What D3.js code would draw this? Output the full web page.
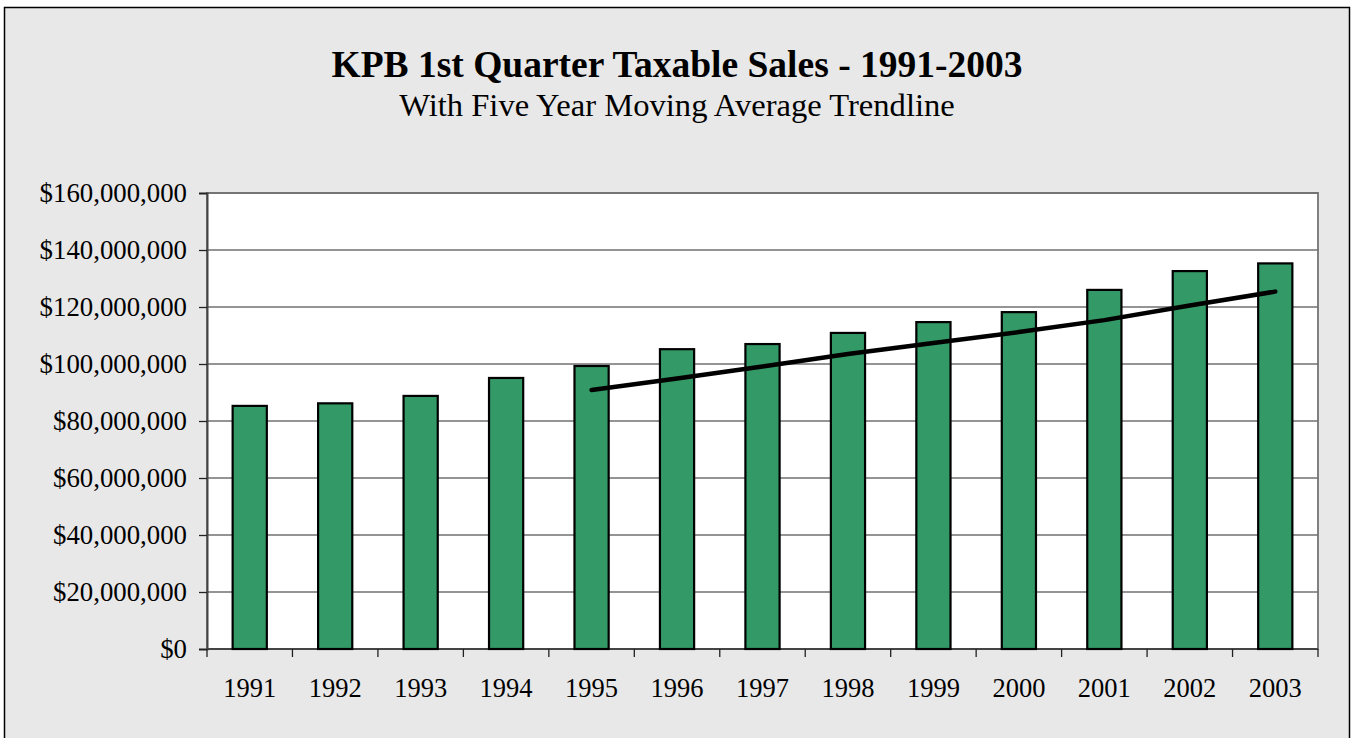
<!DOCTYPE html>
<html>
<head>
<meta charset="utf-8">
<script src="https://cdn.jsdelivr.net/npm/d3@7"></script>
<style>
  body { margin: 0; background: #fff; }
  svg { display: block; font-family: "Liberation Serif", "Times New Roman", serif; }
</style>
</head>
<body>
<div id="chart"></div>
<script>
// data
var years = ["1991", "1992", "1993", "1994", "1995", "1996", "1997", "1998", "1999", "2000", "2001", "2002", "2003"];
var sales = [85.3, 86.2, 88.8, 95.1, 99.3, 105.2, 107.0, 110.9, 114.7, 118.2, 126.0, 132.6, 135.3]; // millions
var trendYears = ["1995", "1996", "1997", "1998", "1999", "2000", "2001", "2002", "2003"];
var trendValues = [90.9, 94.9, 99.1, 103.5, 107.4, 111.2, 115.4, 120.5, 125.4]; // five year moving avg, millions
var yTicks = [0, 20, 40, 60, 80, 100, 120, 140, 160];

var width = 1352, height = 738;
var plot = { left: 207, top: 193, right: 1318, bottom: 649 };

var svg = d3.select("#chart").append("svg")
    .attr("width", width).attr("height", height);

// outer chart area
svg.append("rect")
    .attr("x", 4.5).attr("y", 7.5)
    .attr("width", width - 7).attr("height", height)
    .attr("fill", "#e8e8e8")
    .attr("stroke", "#000").attr("stroke-width", 1.5);

// titles
svg.append("text")
    .attr("x", 677).attr("y", 77)
    .attr("text-anchor", "middle")
    .attr("font-size", 37.5).attr("font-weight", "bold")
    .text("KPB 1st Quarter Taxable Sales - 1991-2003");
svg.append("text")
    .attr("x", 677).attr("y", 116)
    .attr("text-anchor", "middle")
    .attr("font-size", 32.6)
    .text("With Five Year Moving Average Trendline");

var xScale = d3.scaleBand()
    .domain(years)
    .range([plot.left, plot.right])
    .paddingInner(0).paddingOuter(0);

var yScale = d3.scaleLinear()
    .domain([0, 160])
    .range([plot.bottom, plot.top]);

// plot area background
svg.append("rect")
    .attr("x", plot.left).attr("y", plot.top)
    .attr("width", plot.right - plot.left).attr("height", plot.bottom - plot.top)
    .attr("fill", "#fff")
    .attr("stroke", "#808080").attr("stroke-width", 2);

// gridlines
svg.append("g").selectAll("line")
    .data(yTicks.slice(1))
    .enter().append("line")
    .attr("x1", plot.left).attr("x2", plot.right)
    .attr("y1", d => yScale(d)).attr("y2", d => yScale(d))
    .attr("stroke", "#707070").attr("stroke-width", 1.3);

// y axis
var fmt = d3.format(",");
var yAxis = d3.axisLeft(yScale)
    .tickValues(yTicks)
    .tickSize(8)
    .tickPadding(12)
    .tickFormat(d => "$" + fmt(d * 1000000));
var yG = svg.append("g")
    .attr("transform", `translate(${plot.left}, 0)`)
    .call(yAxis);
yG.select(".domain").attr("stroke", "#444").attr("stroke-width", 2);
yG.selectAll(".tick line").attr("stroke", "#222").attr("stroke-width", 1.3);
yG.selectAll("text")
    .attr("font-size", 26.8).attr("fill", "#000")
    .attr("font-family", "Liberation Serif, Times New Roman, serif");

// x axis: ticks at category boundaries
var xG = svg.append("g")
    .attr("transform", `translate(0, ${plot.bottom})`);
xG.append("line")
    .attr("x1", plot.left).attr("x2", plot.right)
    .attr("stroke", "#444").attr("stroke-width", 2);
xG.selectAll(".xtick")
    .data(years.concat(["end"]))
    .enter().append("line")
    .attr("class", "xtick")
    .attr("x1", (d, i) => plot.left + i * xScale.bandwidth())
    .attr("x2", (d, i) => plot.left + i * xScale.bandwidth())
    .attr("y1", 0).attr("y2", 8)
    .attr("stroke", "#222").attr("stroke-width", 1.3);
xG.selectAll(".xlabel")
    .data(years)
    .enter().append("text")
    .attr("class", "xlabel")
    .attr("x", d => xScale(d) + xScale.bandwidth() / 2)
    .attr("y", 48)
    .attr("text-anchor", "middle")
    .attr("font-size", 26.5)
    .text(d => d);

// bars
var barW = xScale.bandwidth() * 0.4;
svg.append("g").selectAll("rect")
    .data(years)
    .enter().append("rect")
    .attr("x", d => xScale(d) + (xScale.bandwidth() - barW) / 2)
    .attr("y", (d, i) => yScale(sales[i]))
    .attr("width", barW)
    .attr("height", (d, i) => plot.bottom - yScale(sales[i]))
    .attr("fill", "#339966")
    .attr("stroke", "#000").attr("stroke-width", 2.2);

// trendline
var line = d3.line()
    .x((d, i) => xScale(trendYears[i]) + xScale.bandwidth() / 2)
    .y(d => yScale(d));
svg.append("path")
    .datum(trendValues)
    .attr("d", line)
    .attr("fill", "none")
    .attr("stroke", "#000").attr("stroke-width", 4.5)
    .attr("stroke-linecap", "round");
</script>
</body>
</html>
